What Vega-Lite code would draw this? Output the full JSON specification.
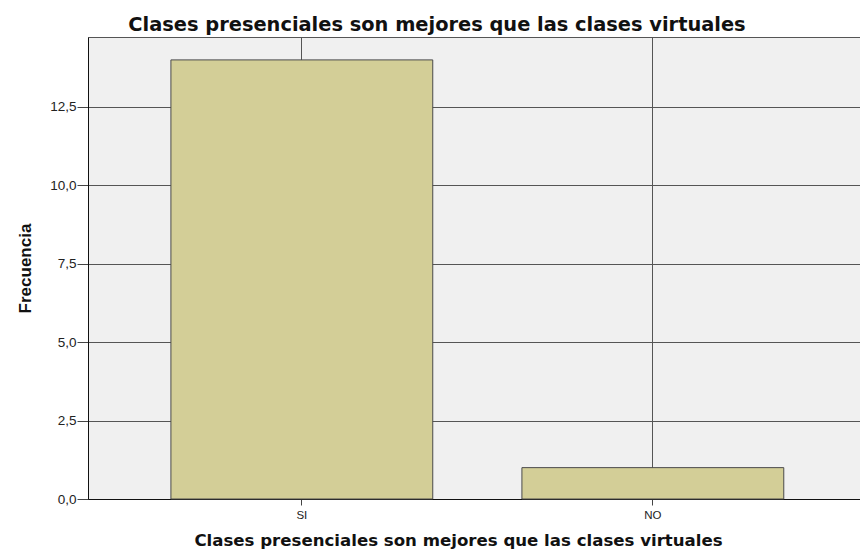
{
  "$schema": "https://vega.github.io/schema/vega-lite/v6.json",
  "autosize": "none",
  "width": 772,
  "height": 462,
  "padding": {"left": 88, "top": 37, "right": 0, "bottom": 52},
  "background": "white",
  "title": {
    "text": "Clases presenciales son mejores que las clases virtuales",
    "font": "DejaVu Sans",
    "fontSize": 19.4,
    "fontWeight": "bold",
    "color": "#111",
    "anchor": "middle",
    "baseline": "alphabetic",
    "dx": -37,
    "dy": 19,
    "offset": 6
  },
  "config": {
    "view": {"fill": "#f0f0f0", "stroke": "#555", "strokeWidth": 1}
  },
  "data": {
    "values": [
      {"respuesta": "SI", "frecuencia": 14},
      {"respuesta": "NO", "frecuencia": 1}
    ]
  },
  "mark": {"type": "bar", "fill": "#d3ce97", "stroke": "#4a4a4a", "strokeWidth": 1},
  "encoding": {
    "x": {
      "field": "respuesta",
      "type": "nominal",
      "sort": ["SI", "NO"],
      "scale": {"paddingInner": 0.254, "paddingOuter": 0.2267, "align": 0.521},
      "axis": {
        "title": "Clases presenciales son mejores que las clases virtuales",
        "titleFont": "DejaVu Sans",
        "titleFontSize": 16.6,
        "titleFontWeight": "bold",
        "titleColor": "#111",
        "titleX": 370,
        "titleY": 46,
        "titleBaseline": "alphabetic",
        "labelAngle": 0,
        "labelFont": "Liberation Sans",
        "labelFontSize": 11.5,
        "labelColor": "#222",
        "labelPadding": 4,
        "tickSize": 6,
        "tickColor": "#444",
        "domainColor": "#111",
        "grid": true,
        "gridColor": "#555",
        "gridWidth": 1,
        "bandPosition": 0.5
      }
    },
    "y": {
      "field": "frecuencia",
      "type": "quantitative",
      "scale": {"domain": [0, 14.73], "nice": false},
      "axis": {
        "title": "Frecuencia",
        "titleFont": "Liberation Sans",
        "titleFontSize": 17,
        "titleFontWeight": "bold",
        "titleColor": "#111",
        "titleBaseline": "alphabetic",
        "titleX": -58,
        "values": [0, 2.5, 5, 7.5, 10, 12.5],
        "labelExpr": "replace(format(datum.value, '.1f'), '.', ',')",
        "labelFont": "Liberation Sans",
        "labelFontSize": 13.5,
        "labelColor": "#222",
        "labelPadding": 1,
        "tickSize": 11,
        "tickColor": "#444",
        "domainColor": "#111",
        "grid": true,
        "gridColor": "#555",
        "gridWidth": 1
      }
    }
  }
}
